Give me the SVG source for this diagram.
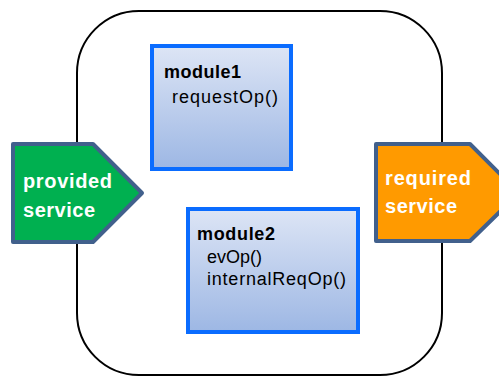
<svg xmlns="http://www.w3.org/2000/svg" width="499" height="376" viewBox="0 0 499 376">
<style>
.mod{stroke:#0a6cff;stroke-width:4;fill:url(#g)}
.mt{font-family:"Liberation Sans",Arial,sans-serif;font-weight:bold;font-size:18px;fill:#000}
.ot{font-family:"Liberation Sans",Arial,sans-serif;font-size:18px;fill:#000}
.pt{stroke:#41608c;stroke-width:4;stroke-linejoin:round}
.st{font-family:"Liberation Sans",Arial,sans-serif;font-weight:bold;font-size:20px;fill:#fff}
</style>
<defs>
<linearGradient id="g" x1="0" y1="0" x2="0" y2="1">
<stop offset="0" stop-color="#dde5f5"/>
<stop offset="1" stop-color="#9db7e4"/>
</linearGradient>
</defs>
<g id="container">
<rect x="77" y="11" width="365" height="364" rx="62" ry="62" fill="#fff" stroke="#000" stroke-width="2"/>
</g>
<g id="connectors"></g>
<g id="module1">
<rect class="mod" x="152" y="46" width="139" height="123"/>
<text class="mt" x="164" y="78" textLength="77">module1</text>
<text class="ot" x="172" y="103" textLength="106">requestOp()</text>
</g>
<g id="module2">
<rect class="mod" x="188" y="209" width="170" height="123"/>
<text class="mt" x="197" y="240" textLength="78">module2</text>
<text class="ot" x="207" y="263" textLength="55">evOp()</text>
<text class="ot" x="207" y="285" textLength="139">internalReqOp()</text>
</g>
<g id="provided">
<polygon class="pt" fill="#00b050" points="13,144 93,144 142,193 93,242 13,242"/>
<text class="st" x="23" y="188" textLength="89">provided</text>
<text class="st" x="23" y="217" textLength="72">service</text>
</g>
<g id="required">
<polygon class="pt" fill="#ff9a00" points="376,144 470,144 519,193 470,241 376,241"/>
<text class="st" x="385" y="185" textLength="86">required</text>
<text class="st" x="385" y="213" textLength="72">service</text>
</g>
</svg>
